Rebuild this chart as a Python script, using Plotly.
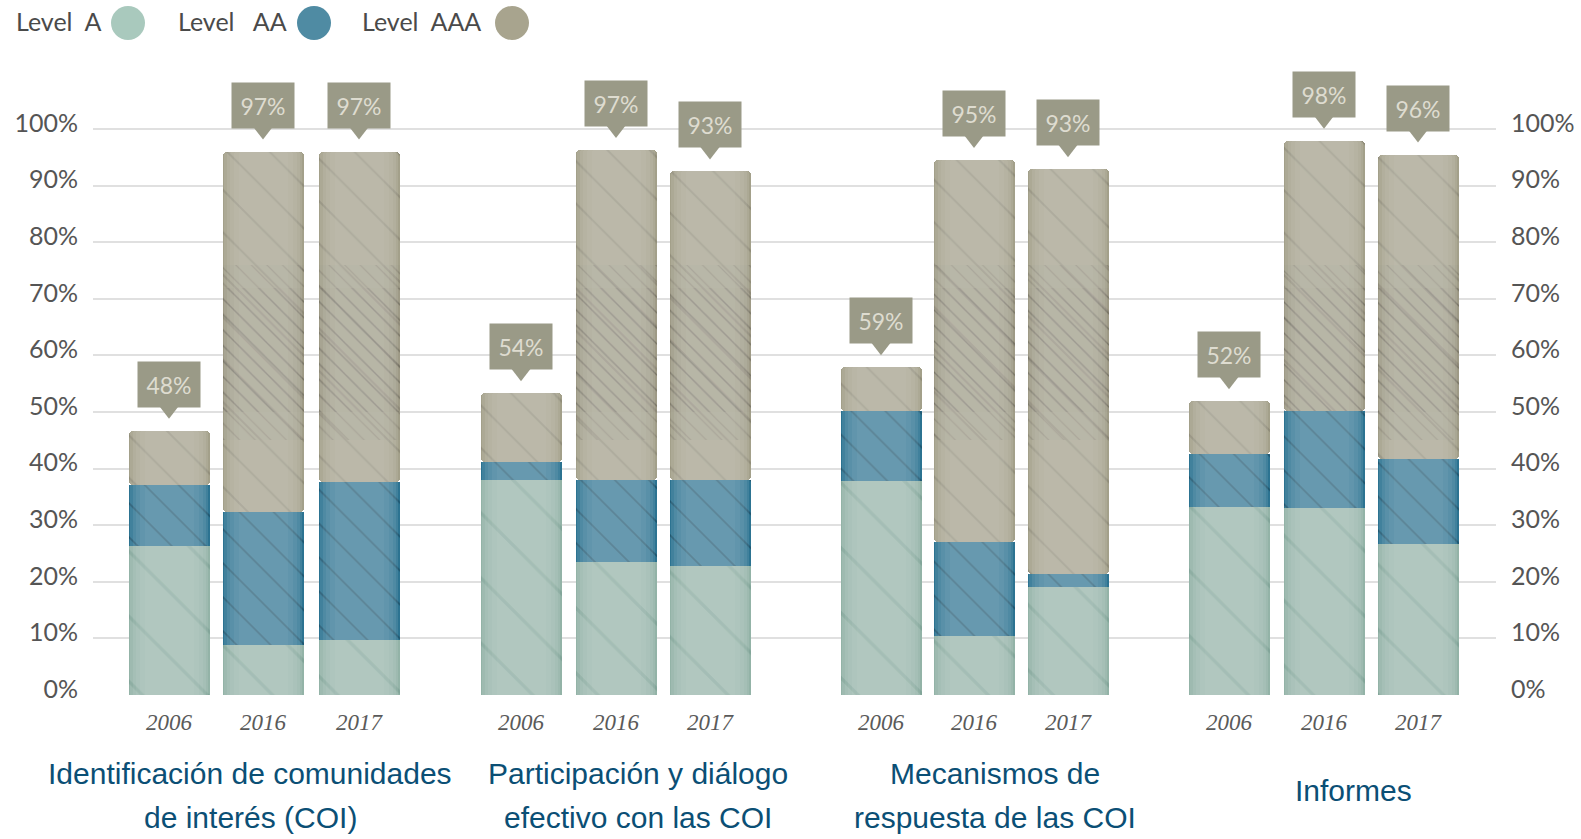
import plotly.graph_objects as go

years = ["2006", "2016", "2017"] * 4
level_a = [26.4, 8.9, 9.8, 38.0, 23.5, 22.8, 37.8, 10.5, 19.0, 33.3, 33.0, 26.7]
level_aa = [10.7, 23.4, 27.8, 3.2, 14.5, 15.2, 12.3, 16.6, 2.4, 9.3, 17.1, 15.0]
level_aaa = [9.6, 63.7, 58.4, 12.1, 58.3, 54.5, 7.8, 67.4, 71.5, 9.3, 47.8, 53.8]
callouts = ["48%", "97%", "97%", "54%", "97%", "93%", "59%", "95%", "93%", "52%", "98%", "96%"]
title_lines = ["Identificación de comunidades", "de interés (COI)",
               "Participación y diálogo", "efectivo con las COI",
               "Mecanismos de", "respuesta de las COI",
               "Informes"]
y_ticks = list(range(0, 101, 10))

# layout of the bars on a horizontal scale
bar_x = [169, 263, 359, 521, 616, 710, 881, 974, 1068, 1229, 1324, 1418]
title_x = [250, 250, 638, 638, 995, 995, 1353]
title_drop = [78, 122, 78, 122, 78, 122, 95]
BAR_W = 81
MARGIN_L, MARGIN_R = 93, 85
PLOT_W = 1581 - MARGIN_L - MARGIN_R
x_range = [MARGIN_L, 1581 - MARGIN_R]

totals = [a + b + c for a, b, c in zip(level_a, level_aa, level_aaa)]
base_aa = level_a
base_aaa = [a + b for a, b in zip(level_a, level_aa)]

fig = go.Figure()


def layer(values, bases, color, vein, veinsize, alpha, radius=0):
    fig.add_bar(x=bar_x, y=values, base=bases, width=BAR_W, marker=dict(
        color=color, line_width=0, cornerradius=radius,
        pattern=dict(shape="\\", size=veinsize, solidity=0.07, fgcolor=vein, fgopacity=alpha,
                     fillmode="overlay")))


layer(level_a, [0] * 12, "#93b3a7", "#4f7a6e", 46, 0.25)
layer(level_aa, base_aa, "#2c7391", "#123b50", 24, 0.55)
layer(level_aaa, base_aaa, "#a3a08a", "#5c5a4c", 30, 0.28, radius=4)

# darker marbled zone inside the tall AAA segments, in two soft steps
for lo_limit, hi_limit in [(45, 76), (50, 72)]:
    zone_x, zone_h, zone_b = [], [], []
    for x, b, t in zip(bar_x, base_aaa, totals):
        if t > 90:
            lo = max(b, lo_limit)
            zone_x.append(x)
            zone_b.append(lo)
            zone_h.append(hi_limit - lo)
    fig.add_bar(x=zone_x, y=zone_h, base=zone_b, width=BAR_W, hoverinfo="skip", marker=dict(
        color="rgba(110,108,100,0.06)", line_width=0,
        pattern=dict(shape="\\", size=11, solidity=0.12, fgcolor="#4d4c44", fgopacity=0.28,
                     fillmode="overlay")))

# cylinder shading: nested translucent bars, brightest in the middle
for w, col in [(BAR_W - 3, "rgba(255,255,255,0.10)"), (BAR_W - 8, "rgba(255,255,255,0.08)"),
               (BAR_W - 14, "rgba(255,255,255,0.06)"), (BAR_W - 22, "rgba(255,255,255,0.05)"),
               (BAR_W - 32, "rgba(255,255,255,0.04)")]:
    fig.add_bar(x=bar_x, y=totals, width=w, marker=dict(color=col, line_width=0, cornerradius=3),
                hoverinfo="skip")

# callout pointers
fig.add_scatter(x=bar_x, y=[t + 3.9 for t in totals], mode="markers", cliponaxis=False,
                marker=dict(symbol="triangle-down", size=20, color="#9a9a87", line_width=0))

for x, t, label in zip(bar_x, totals, callouts):
    fig.add_annotation(x=x, y=t, text=label, showarrow=False, yanchor="bottom", yshift=23,
                       width=60, height=43, bgcolor="#9a9a87",
                       font=dict(family="Lato", size=23, color="#dedcd0"))

for x, drop, t in zip(title_x, title_drop, title_lines):
    fig.add_annotation(x=x, y=0, yref="paper", yanchor="middle", yshift=-drop, text=t, showarrow=False,
                       font=dict(family="Liberation Sans", size=30, color="#0b4f75"))

fig.update_layout(
    width=1581, height=839, paper_bgcolor="white", plot_bgcolor="white",
    margin=dict(l=MARGIN_L, r=MARGIN_R, t=60, b=144, autoexpand=False),
    barmode="overlay", showlegend=False, bargap=0,
    xaxis=dict(range=x_range, tickmode="array", tickvals=bar_x, ticktext=years, showgrid=False,
               automargin=False, zeroline=False, showline=False, ticks="", ticklabelstandoff=11,
               tickfont=dict(family="Liberation Serif", size=23, color="#5a5a5a", style="italic")),
    yaxis=dict(range=[0, 112.2], tickmode="array", tickvals=y_ticks, ticktext=[f"{v}%" for v in y_ticks],
               automargin=False, gridcolor="#e0e0e0", gridwidth=2, zeroline=False, ticks="",
               ticklabelstandoff=14, ticklabelshift=-6, tickfont=dict(family="Lato", size=25, color="#555555")),
    yaxis2=dict(range=[0, 112.2], overlaying="y", side="right", tickmode="array", tickvals=y_ticks,
                ticktext=[f"{v}%" for v in y_ticks], showgrid=False, zeroline=False, ticks="",
                automargin=False, ticklabelstandoff=14, ticklabelshift=-6,
                tickfont=dict(family="Lato", size=25, color="#555555")),
)
fig.add_scatter(x=[bar_x[0]], y=[0], yaxis="y2", mode="markers", marker=dict(opacity=0), hoverinfo="skip")

# legend placed above the plot, dot after the text
legend_names = ["Level  A", "Level   AA", "Level  AAA"]
legend_colors = ["#a9c9bd", "#4f8ba3", "#a8a48e"]
legend_text_x = [14, 176, 360]
legend_dot_x = [128, 314, 512]
for n, c, tx, dx in zip(legend_names, legend_colors, legend_text_x, legend_dot_x):
    fig.add_annotation(xref="paper", yref="paper", x=(tx - MARGIN_L) / PLOT_W,
                       y=1, yanchor="bottom", xanchor="left", yshift=22, text=n, showarrow=False,
                       font=dict(family="Lato", size=25, color="#4a4a4a"))
    fig.add_shape(type="circle", xref="paper", yref="paper", xsizemode="pixel", ysizemode="pixel",
                  xanchor=(dx - MARGIN_L) / PLOT_W, yanchor=1,
                  x0=-17, x1=17, y0=20, y1=54, fillcolor=c, line_width=0)

fig.write_html("out.html", config={"displayModeBar": False},
               post_script="document.body.style.margin='0';")
